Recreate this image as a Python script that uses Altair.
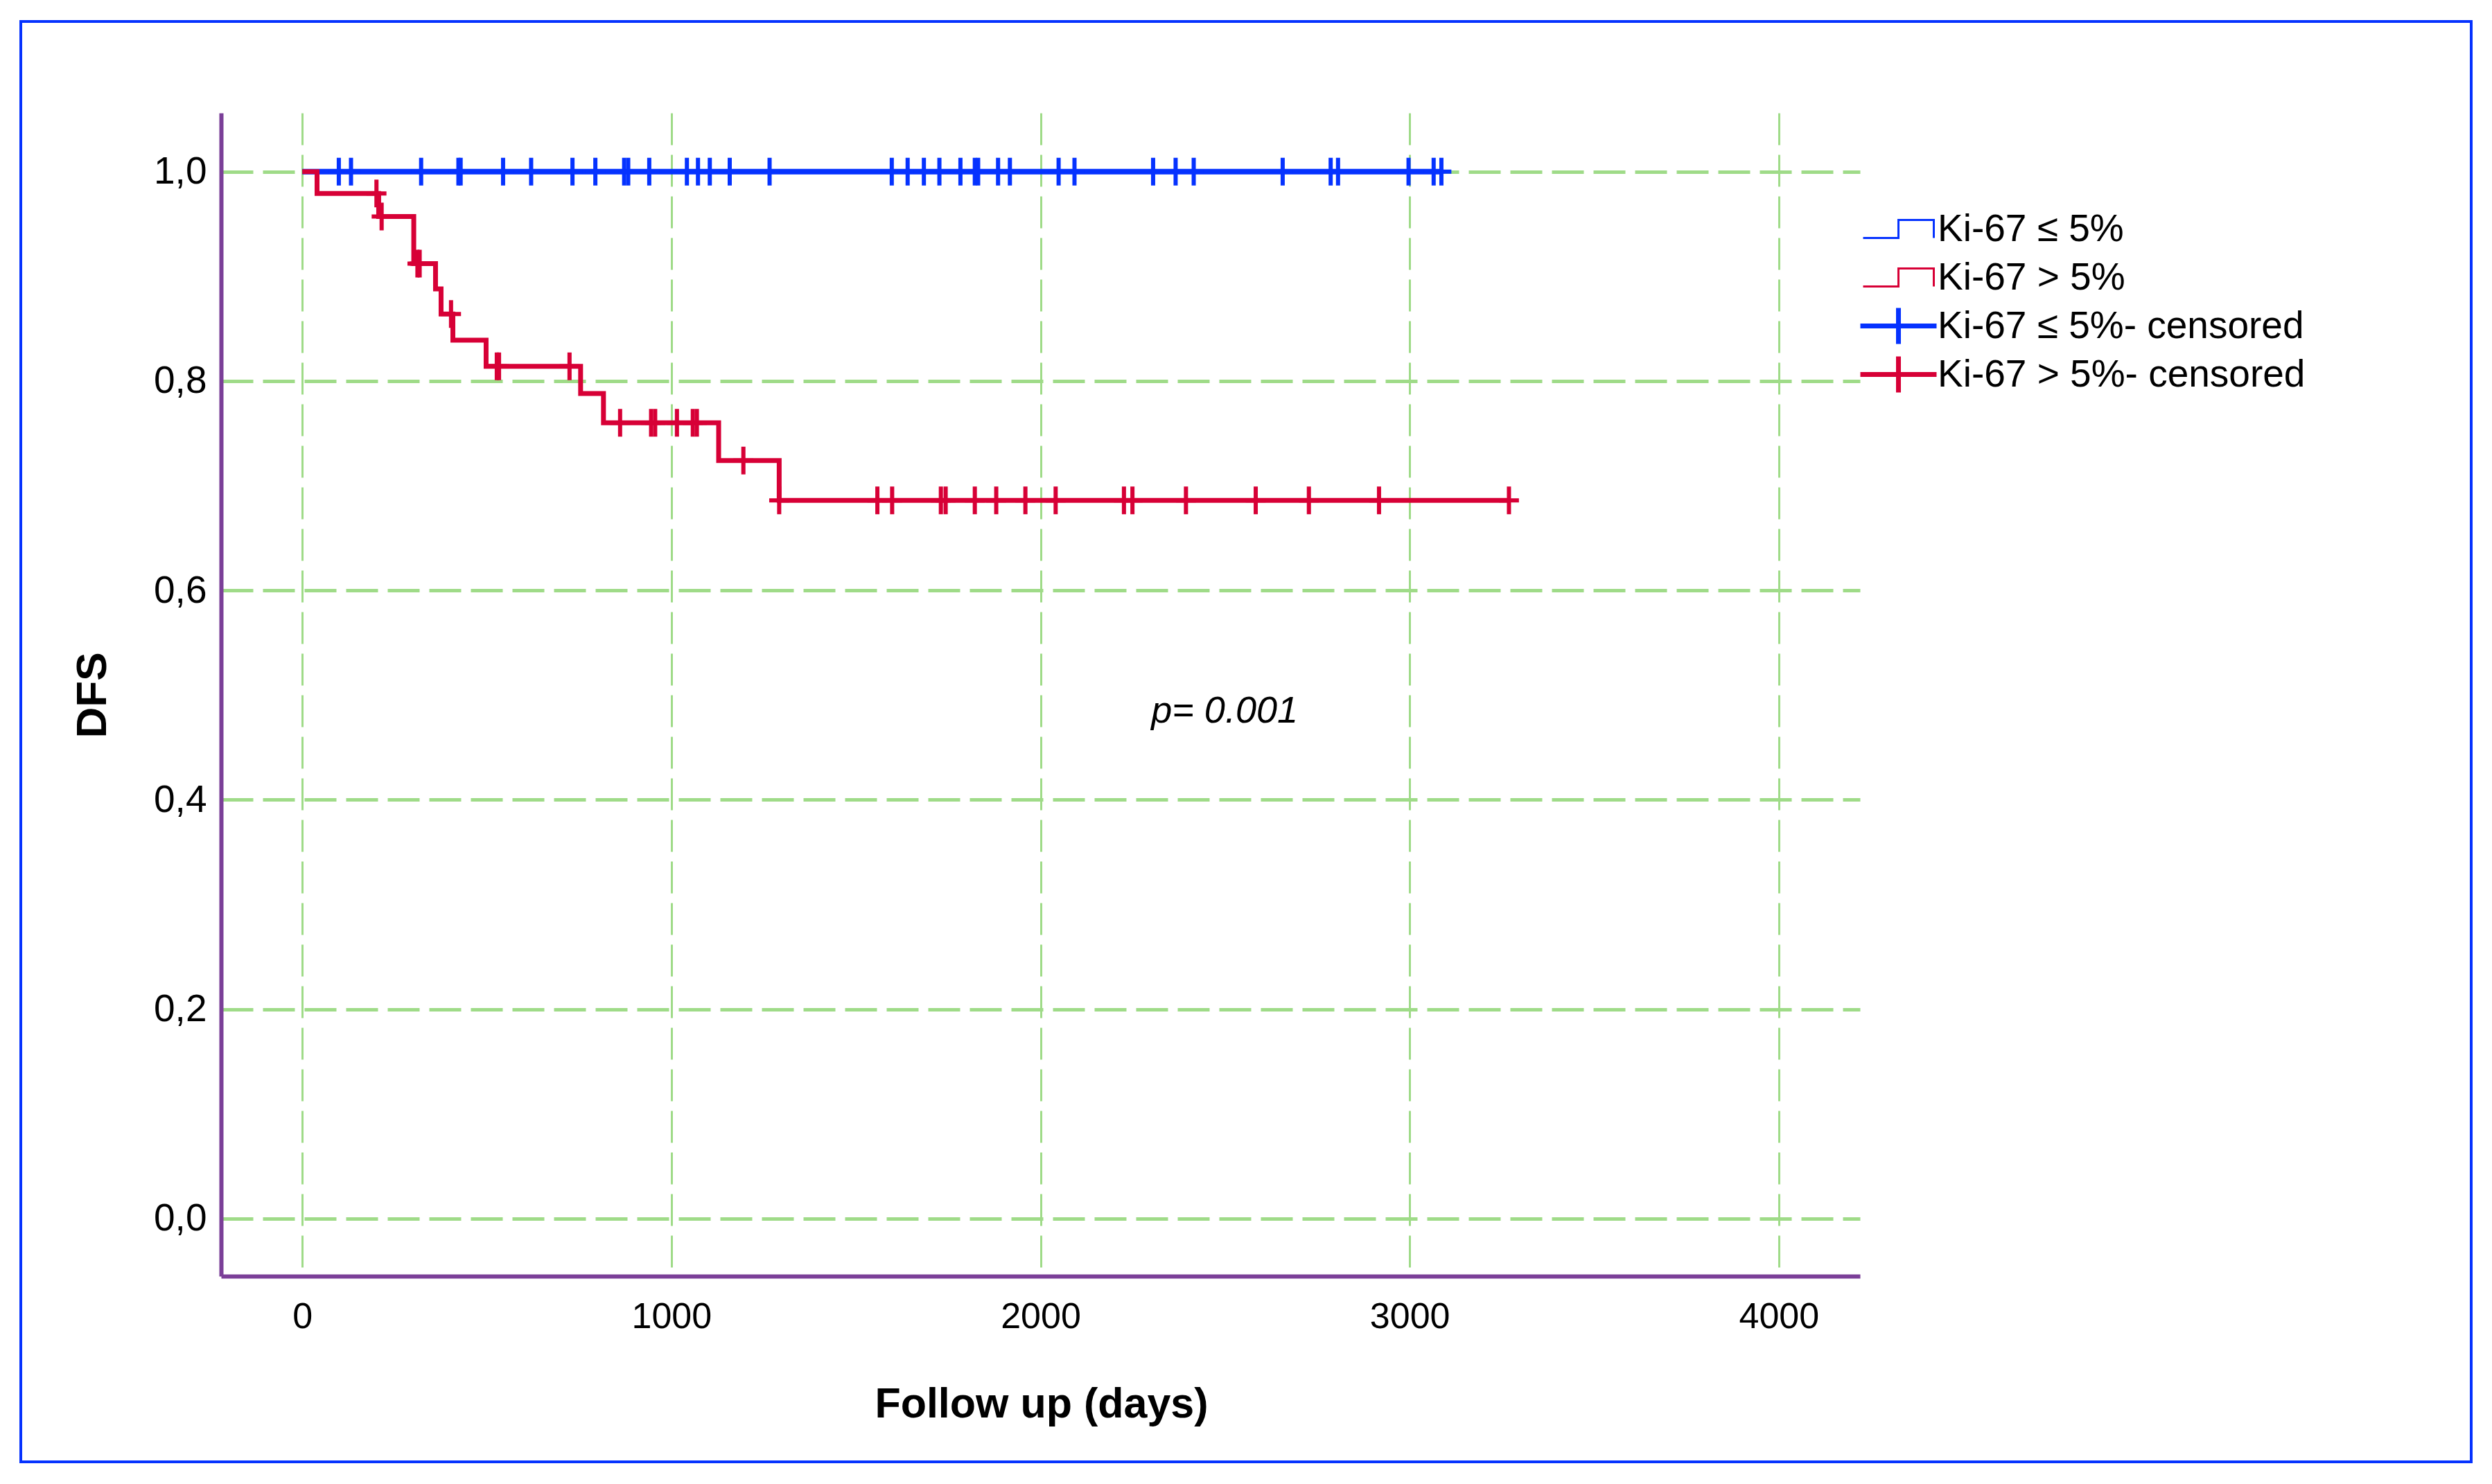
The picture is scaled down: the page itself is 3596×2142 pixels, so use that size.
import altair as alt
import pandas as pd

# ---------------- data ----------------
LBL_LO = "Ki-67 ≤ 5%"
LBL_HI = "Ki-67 > 5%"
LBL_LO_C = "Ki-67 ≤ 5%- censored"
LBL_HI_C = "Ki-67 > 5%- censored"

# Kaplan-Meier step curve, Ki-67 <= 5%
blue_step_days = [0, 3086]
blue_step_surv = [1.0, 1.0]

# Kaplan-Meier step curve, Ki-67 > 5%
red_step_days = [0, 40, 207, 302, 361, 376, 408, 498, 754, 816, 1128, 1292, 3269]
red_step_surv = [1.0, 0.979, 0.957, 0.912, 0.888, 0.864, 0.839, 0.814, 0.788, 0.760, 0.724, 0.686, 0.686]

# censored observations, Ki-67 <= 5%
blue_censor_days = [99, 132, 322, 423, 429, 544, 620, 732, 794, 872, 883, 940, 1042, 1072,
                    1104, 1158, 1266, 1597, 1640, 1684, 1726, 1783, 1822, 1831, 1885, 1917,
                    2049, 2092, 2305, 2366, 2415, 2656, 2786, 2806, 2997, 3065, 3086]
blue_censor_surv = [1.0, 1.0, 1.0, 1.0, 1.0, 1.0, 1.0, 1.0, 1.0, 1.0, 1.0, 1.0, 1.0, 1.0,
                    1.0, 1.0, 1.0, 1.0, 1.0, 1.0, 1.0, 1.0, 1.0, 1.0, 1.0, 1.0,
                    1.0, 1.0, 1.0, 1.0, 1.0, 1.0, 1.0, 1.0, 1.0, 1.0, 1.0]

# censored observations, Ki-67 > 5%
red_censor_days = [201, 215, 312, 318, 403, 527, 533, 724, 861, 945, 956, 1015, 1058, 1069,
                   1195, 1292, 1558, 1598, 1730, 1743, 1822, 1880, 1959, 2041, 2226, 2249,
                   2394, 2583, 2727, 2917, 3269]
red_censor_surv = [0.979, 0.957, 0.912, 0.912, 0.864, 0.814, 0.814, 0.814, 0.760, 0.760, 0.760,
                   0.760, 0.760, 0.760, 0.724, 0.686, 0.686, 0.686, 0.686, 0.686, 0.686, 0.686,
                   0.686, 0.686, 0.686, 0.686, 0.686, 0.686, 0.686, 0.686, 0.686]

x_ticks = [0, 1000, 2000, 3000, 4000]
y_ticks = [0.0, 0.2, 0.4, 0.6, 0.8, 1.0]

p_label = ["p= 0.001"]
p_day = [2300]
p_surv = [0.474]

legend_labels = [LBL_LO, LBL_HI, LBL_LO_C, LBL_HI_C]

# ---------------- styling ----------------
BLUE = "#0532FF"
RED = "#D70036"
PURPLE = "#7B3F98"
GREEN = "#9FDB88"
FONT = "Liberation Sans"

# legend symbols drawn at 10 px per path unit (symbolSize 400)
STEP_PATH = "M-5.1,1.3H0V-1.3H5.1V1.3"
PLUS_LEG = "M-5.5,0H5.5M0,-2.6V2.6"
PLUS_DATA = "M-0.72,0H0.72M0,-1V1"

legend_colors = [BLUE, RED, BLUE, RED]
legend_shapes = [STEP_PATH, STEP_PATH, PLUS_LEG, PLUS_LEG]
legend_widths = [3, 3, 7, 7]

W, H = 2365, 1679

blue_line_df = pd.DataFrame({"day": blue_step_days, "surv": blue_step_surv})
red_line_df = pd.DataFrame({"day": red_step_days, "surv": red_step_surv})
blue_cens_df = pd.DataFrame({"day": blue_censor_days, "surv": blue_censor_surv})
red_cens_df = pd.DataFrame({"day": red_censor_days, "surv": red_censor_surv})
p_df = pd.DataFrame({"day": p_day, "surv": p_surv, "label": p_label})
legend_df = pd.DataFrame({"series": legend_labels})

x_scale = alt.Scale(domain=[-220, 4220], nice=False, zero=False)
y_scale = alt.Scale(domain=[-0.055, 1.056], nice=False, zero=False)

x_axis = alt.Axis(
    values=x_ticks, format="d", title="Follow up (days)",
    grid=True, gridColor=GREEN, gridDash=[46, 14], gridWidth=3,
    domainColor=PURPLE, domainWidth=6, ticks=False, tickSize=0,
    labelPadding=33, labelFontSize=52, labelFont=FONT, labelColor="black",
    labelFlush=False, labelOverlap=False,
    titleFont=FONT, titleFontSize=61, titleFontWeight="bold", titleColor="black",
    titleX=W / 2 + 1, titleY=203, titleBaseline="alphabetic", titleAlign="center",
)
y_axis = alt.Axis(
    values=y_ticks, labelExpr="replace(format(datum.value, '.1f'), '.', ',')", title="DFS",
    grid=True, gridColor=GREEN, gridDash=[46, 14], gridWidth=5,
    domainColor=PURPLE, domainWidth=6, ticks=False, tickSize=0,
    labelPadding=21, labelFontSize=55, labelFont=FONT, labelColor="black",
    labelFlush=False, labelOverlap=False,
    titleFont=FONT, titleFontSize=62, titleFontWeight="bold", titleColor="black",
    titleX=-186, titleY=840, titleAngle=270, titleBaseline="middle", titleAlign="center",
)

X = alt.X("day:Q", scale=x_scale, axis=x_axis)
Y = alt.Y("surv:Q", scale=y_scale, axis=y_axis)

border = alt.Chart(pd.DataFrame({"k": [0]})).mark_rect(
    fillOpacity=0, stroke=BLUE, strokeWidth=4, clip=False
).encode(x=alt.value(-289), x2=alt.value(3247), y=alt.value(-132), y2=alt.value(1947))

blue_line = alt.Chart(blue_line_df).mark_line(
    interpolate="step-after", strokeWidth=8, color=BLUE).encode(x=X, y=Y)
red_line = alt.Chart(red_line_df).mark_line(
    interpolate="step-after", strokeWidth=7, color=RED).encode(x=X, y=Y)

blue_cens = alt.Chart(blue_cens_df).mark_point(
    shape=PLUS_DATA, size=1600, filled=False, strokeWidth=6, opacity=1, color=BLUE
).encode(x=X, y=Y)
red_cens = alt.Chart(red_cens_df).mark_point(
    shape=PLUS_DATA, size=1600, filled=False, strokeWidth=6, opacity=1, color=RED
).encode(x=X, y=Y)

ptext = alt.Chart(p_df).mark_text(
    align="left", baseline="alphabetic", fontStyle="italic", fontSize=54, font=FONT, color="black"
).encode(x=X, y=Y, text="label:N")

leg_def = alt.Legend(
    title=None, orient="none", legendX=2363, legendY=140, symbolSize=400,
    labelFont=FONT, labelFontSize=55, labelColor="black", labelOffset=29, labelLimit=2000,
    symbolOffset=30, rowPadding=14, padding=0, symbolOpacity=1, clipHeight=55,
)
legend_layer = alt.Chart(legend_df).transform_filter("false").mark_point(
    filled=False, opacity=1
).encode(
    color=alt.Color("series:N", scale=alt.Scale(domain=legend_labels, range=legend_colors), legend=leg_def),
    shape=alt.Shape("series:N", scale=alt.Scale(domain=legend_labels, range=legend_shapes), legend=leg_def),
    strokeWidth=alt.StrokeWidth("series:N", scale=alt.Scale(type="ordinal", domain=legend_labels, range=legend_widths), legend=leg_def),
)

chart = alt.layer(
    border, blue_line, red_line, blue_cens, red_cens, ptext, legend_layer
).properties(
    width=W, height=H,
    padding={"left": 311, "top": 155, "right": 890, "bottom": 280},
    autosize=alt.AutoSizeParams(type="none"),
    background="white",
).configure_view(stroke=None)

chart.save("out.html", embed_options={"renderer": "svg", "actions": False})
